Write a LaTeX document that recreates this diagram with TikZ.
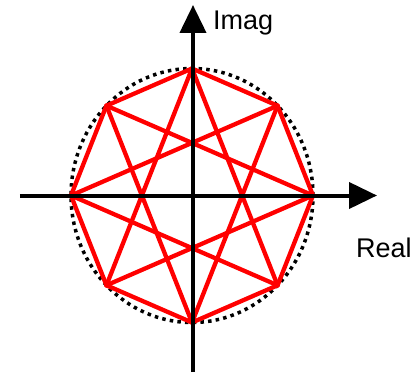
\documentclass[tikz,border=0pt]{standalone}
\usepackage{fontspec}
\setmainfont{Liberation Sans}
\usetikzlibrary{arrows.meta}
\definecolor{StarRed}{HTML}{FF0000}

\begin{document}
\begin{tikzpicture}[x=1pt,y=1pt,
    axis/.style={line width=4pt,-{Triangle[length=28pt,width=26pt]}},
    rim/.style={line width=3.5pt,dash pattern=on 3.5pt off 4.2pt},
    edge/.style={line width=4.3pt,StarRed,line cap=round,line join=round},
    lab/.style={font=\fontsize{27}{30}\selectfont,anchor=base west,inner sep=0pt}]
    \useasboundingbox (-192,-176.5) rectangle (222,195.5);
    % unit circle (dotted)
    \draw[rim] (0,0) ellipse [x radius=121, y radius=127];
    % vertices of the octagon
    \foreach \k in {0,...,7}
      \coordinate (v\k) at ({121*cos(45*\k)},{127*sin(45*\k)});
    % octagon and star
    \foreach \k [evaluate=\k as \n using {int(mod(\k+1,8))},
                 evaluate=\k as \m using {int(mod(\k+3,8))}] in {0,...,7}
      {
        \draw[edge] (v\k) -- (v\n);
        \draw[edge] (v\k) -- (v\m);
      }
    % axes
    \coordinate (xs) at (-172,0);
    \coordinate (xe) at (185,0);
    \coordinate (ys) at (1,-176.5);
    \coordinate (ye) at (1,190.5);
    \draw[axis] (xs) -- (xe);
    \draw[axis] (ys) -- (ye);
    \node[lab] (imag) at (21,165.5) {Imag};
    \node[lab] (real) at (164,-61.5) {Real};
\end{tikzpicture}
\end{document}
